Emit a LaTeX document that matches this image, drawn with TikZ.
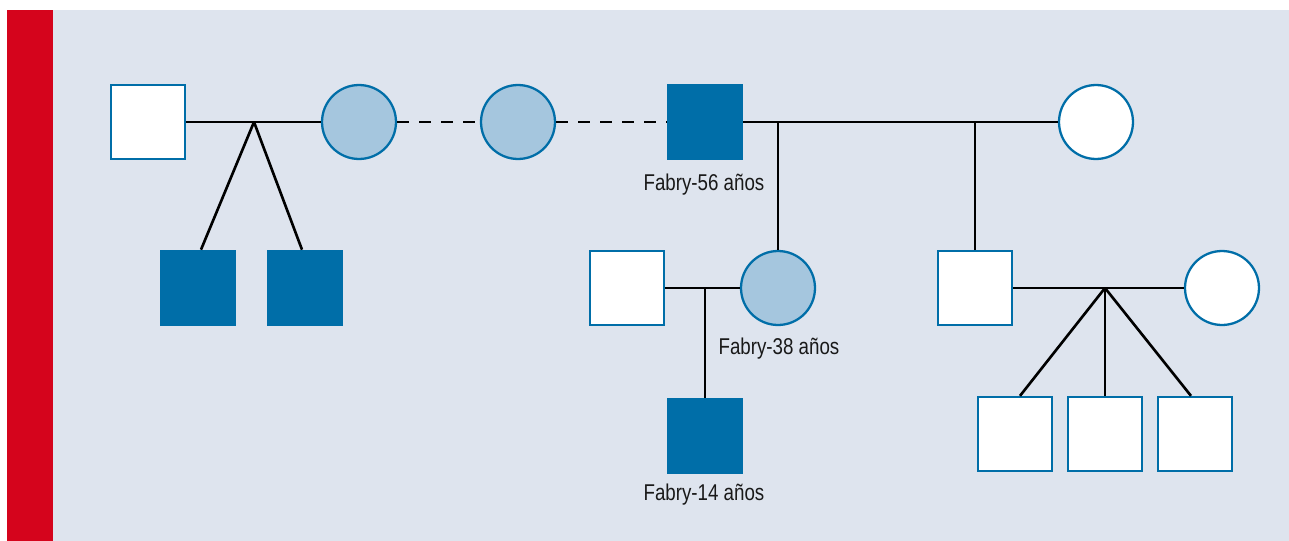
\documentclass[tikz,border=0pt]{standalone}
\usepackage{fontspec}
\setmainfont{Liberation Sans}[FakeStretch=0.82]

\definecolor{pedblue}{HTML}{006EA8}
\definecolor{pedlight}{HTML}{A5C6DE}
\definecolor{pedback}{HTML}{DEE4EE}
\definecolor{pedred}{HTML}{D5041C}

\tikzstyle{male} = [rectangle, minimum size=1.48cm, inner sep=0pt, draw=pedblue, line width=1.3pt, fill=white]
\tikzstyle{affected} = [rectangle, minimum size=1.52cm, inner sep=0pt, fill=pedblue]
\tikzstyle{female} = [circle, minimum size=1.48cm, inner sep=0pt, draw=pedblue, line width=1.3pt, fill=white]
\tikzstyle{carrier} = [female, fill=pedlight]
\tikzstyle{line} = [line width=1.5pt, black]
\tikzstyle{agetext} = [font=\fontsize{13}{15}\selectfont, text=black!90]

\begin{document}
\begin{tikzpicture}[x=0.02cm, y=-0.02cm]
			\useasboundingbox (0,0) rectangle (1289,541);
			\fill[pedback] (53,10) rectangle (1289,541);
			\fill[pedred] (7,10) rectangle (53,541);

			% first generation
			\node (1) [male] at (148,122) {};
			\node (2) [carrier] at (359,122) {};
			\node (3) [carrier] at (518,122) {};
			\node (4) [affected] at (705,122) {};
			\node (5) [female] at (1096,122) {};
			\node (6) [agetext] at (704,185) {Fabry-56 años};

			% second generation
			\node (7) [affected] at (198,288) {};
			\node (8) [affected] at (305,288) {};
			\node (9) [male] at (627,288) {};
			\node (10) [carrier] at (778,288) {};
			\node (11) [male] at (975,288) {};
			\node (12) [female] at (1222,288) {};
			\node (13) [agetext] at (779,349) {Fabry-38 años};

			% third generation
			\node (14) [affected] at (705,436) {};
			\node (15) [agetext] at (704,495) {Fabry-14 años};
			\node (16) [male] at (1015,434) {};
			\node (17) [male] at (1105,434) {};
			\node (18) [male] at (1195,434) {};

			\coordinate (s1) at (254,122);
			\coordinate (s2) at (778,122);
			\coordinate (s3) at (975,122);
			\coordinate (s4) at (705,288);
			\coordinate (s5) at (1105,288);

			\draw [line] (1) -- (2);
			\draw [line, dash pattern=on 0.24cm off 0.2cm] (2) -- (3);
			\draw [line, dash pattern=on 0.24cm off 0.2cm] (3) -- (4);
			\draw [line] (4) -- (5);
			\draw [line] (s1) -- ([xshift=0.06cm]7.north);
			\draw [line] (s1) -- ([xshift=-0.06cm]8.north);
			\draw [line] (s2) -- (10);
			\draw [line] (s3) -- (11);
			\draw [line] (9) -- (10);
			\draw [line] (s4) -- (14);
			\draw [line] (11) -- (12);
			\draw [line] (s5) -- ([xshift=0.1cm]16.north);
			\draw [line] (s5) -- (17);
			\draw [line] (s5) -- ([xshift=-0.08cm]18.north);
		\end{tikzpicture}
\end{document}
